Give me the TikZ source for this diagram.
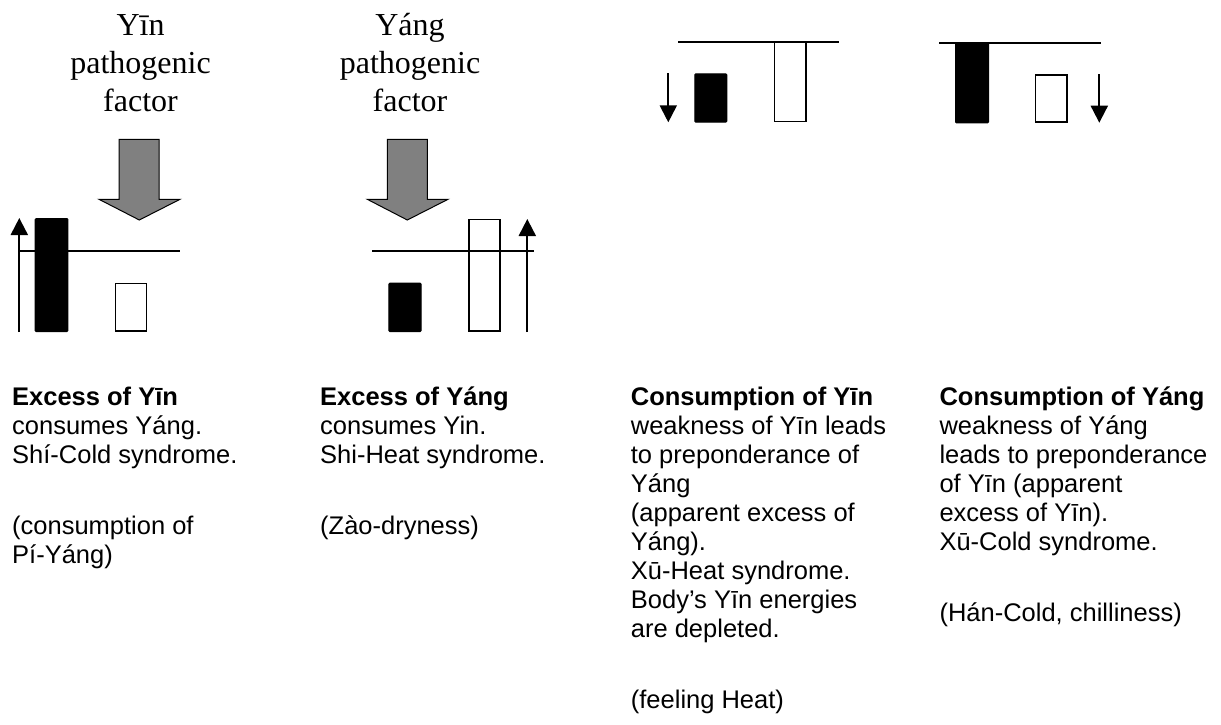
\documentclass[tikz,border=0pt]{standalone}
\usepackage{fontspec}
\setmainfont{Liberation Sans}
\newfontfamily\timesface{Liberation Serif}
\usetikzlibrary{arrows.meta}

\begin{document}
\begin{tikzpicture}[x=1pt, y=-1pt,
  level/.style={line width=2pt},
  trend/.style={line width=2pt, -{Triangle[length=17pt, width=17pt]}},
  yinbar/.style={draw=black, fill=black, line width=1pt, rounded corners=1pt, inner sep=0pt, outer sep=0pt, anchor=north west},
  yangbar/.style={draw=black, line width=1.5pt, inner sep=0pt, outer sep=0pt, anchor=north west},
  factor/.style={draw=black, fill=gray, line width=1pt, line join=miter},
  factorlabel/.style={font=\timesface\fontsize{32}{38.3}\selectfont, align=center, anchor=north, inner sep=0pt},
  caption/.style={font=\fontsize{25.5}{29}\selectfont, align=left, anchor=north west, inner sep=0pt}
]
\useasboundingbox (0,0) rectangle (1221,724);

% pathogenic factors
\node[factorlabel] (yinf) at (140.5,5) {\rule{0pt}{30pt}Yīn\\pathogenic\\factor};
\node[factorlabel] (yangf) at (410,5) {\rule{0pt}{30pt}Yáng\\pathogenic\\factor};
\filldraw[factor] (119,139.3) -- (159,139.3) -- (159,199.3) -- (180,199.3) -- (139.3,220) -- (99,199.3) -- (119,199.3) -- cycle;
\filldraw[factor] (387.3,139.3) -- (427.3,139.3) -- (427.3,199.3) -- (448,199.3) -- (407.3,220) -- (367.3,199.3) -- (387.3,199.3) -- cycle;

% excess of Yin
\coordinate (lvl1w) at (19.3,251);
\coordinate (lvl1e) at (180,251);
\draw[level] (lvl1w) -- (lvl1e);
\coordinate (up1s) at (19.3,332);
\coordinate (up1e) at (19.3,218);
\draw[trend] (up1s) -- (up1e);
\node[yinbar, minimum width=32.6pt, minimum height=113pt] (yin1) at (35.2,218.5) {};
\node[yangbar, minimum width=30.8pt, minimum height=47.5pt] (yang1) at (115.7,283.4) {};

% excess of Yang
\coordinate (lvl2w) at (372.3,251);
\coordinate (lvl2e) at (534,251);
\draw[level] (lvl2w) -- (lvl2e);
\node[yinbar, minimum width=32.4pt, minimum height=48.3pt] (yin2) at (388.8,283.2) {};
\node[yangbar, minimum width=31.2pt, minimum height=111.2pt] (yang2) at (469,219.7) {};
\coordinate (up2s) at (527.3,332);
\coordinate (up2e) at (527.3,219);
\draw[trend] (up2s) -- (up2e);

% consumption of Yin
\coordinate (lvl3w) at (678.3,42.3);
\coordinate (lvl3e) at (839,42.3);
\draw[level] (lvl3w) -- (lvl3e);
\coordinate (dn3s) at (668.3,73.3);
\coordinate (dn3e) at (668.3,122.3);
\draw[trend] (dn3s) -- (dn3e);
\node[yinbar, minimum width=32pt, minimum height=48.4pt] (yin3) at (694.8,73.8) {};
\node[yangbar, minimum width=31.2pt, minimum height=79.2pt] (yang3) at (774.7,42.4) {};

% consumption of Yang
\coordinate (lvl4w) at (939.3,42.7);
\coordinate (lvl4e) at (1100.7,42.7);
\draw[level] (lvl4w) -- (lvl4e);
\node[yinbar, minimum width=33pt, minimum height=79.6pt] (yin4) at (955.5,43.2) {};
\node[yangbar, minimum width=31.2pt, minimum height=46.9pt] (yang4) at (1035.7,75) {};
\coordinate (dn4s) at (1099.3,74);
\coordinate (dn4e) at (1099.3,122.7);
\draw[trend] (dn4s) -- (dn4e);

% captions
\node[caption] (cap1) at (12,381) {\rule{0pt}{24pt}\textbf{Excess of Yīn}\\consumes Yáng.\\Shí-Cold syndrome.\\[42pt](consumption of\\Pí-Yáng)};
\node[caption] (cap2) at (320,381) {\rule{0pt}{24pt}\textbf{Excess of Yáng}\\consumes Yin.\\Shi-Heat syndrome.\\[42pt](Zào-dryness)};
\node[caption] (cap3) at (630.7,381) {\rule{0pt}{24pt}\textbf{Consumption of Yīn}\\weakness of Yīn leads\\to preponderance of\\Yáng\\(apparent excess of\\Yáng).\\Xū-Heat syndrome.\\Body’s Yīn energies\\are depleted.\\[42pt](feeling Heat)};
\node[caption] (cap4) at (939.3,381) {\rule{0pt}{24pt}\textbf{Consumption of Yáng}\\weakness of Yáng\\leads to preponderance\\of Yīn (apparent\\excess of Yīn).\\Xū-Cold syndrome.\\[42pt](Hán-Cold, chilliness)};
\end{tikzpicture}
\end{document}
